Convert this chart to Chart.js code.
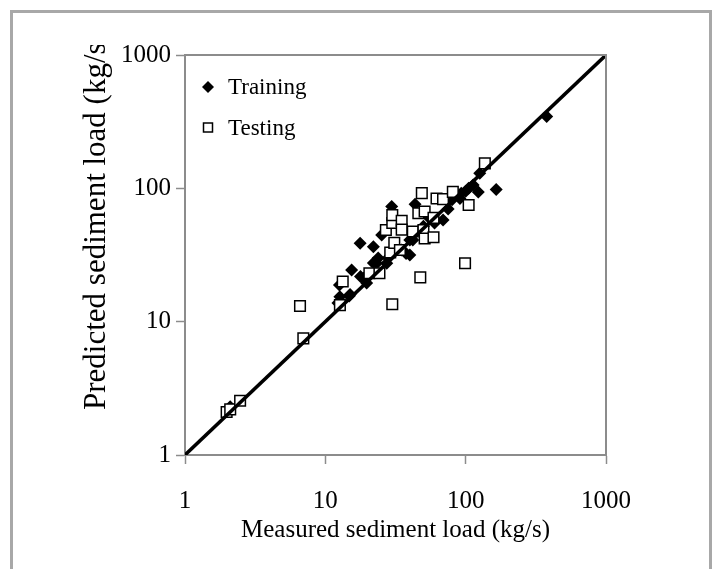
<!DOCTYPE html>
<html>
<head>
<meta charset="utf-8">
<script src="https://cdn.jsdelivr.net/npm/chart.js@4"></script>
<style>
  body { margin: 0; background: #fff; }
  #wrap { width: 721px; height: 569px; }
</style>
</head>
<body>
<div id="wrap"><canvas id="chart" width="721" height="569"></canvas></div>
<script>
// measured (x) vs predicted (y) sediment load, kg/s
const trainingX = [2.1, 12.3, 12.7, 12.6, 14.8, 15.0, 15.4, 17.8, 18.7, 19.7, 17.7, 22, 22, 23.2, 23.8, 25.2, 27.4, 28, 29.7, 32, 35, 37.6, 40, 40, 42, 43.6, 50, 55, 60, 69, 75, 80, 91, 93, 100, 105, 113, 123, 126, 165, 378];
const trainingY = [2.3, 13.8, 15.4, 18.8, 15.6, 16, 24.4, 21.8, 21.2, 19.5, 38.7, 36.5, 27.5, 27.4, 30, 44.7, 27.4, 30, 73, 35, 34.5, 32.5, 31.6, 41, 41, 76, 52, 60, 55, 58, 70, 82, 84, 92, 95, 100, 106, 94, 130, 98, 345];

const testingX = [1.98, 2.1, 2.47, 6.6, 6.97, 12.7, 13.3, 20.6, 24.3, 27, 29, 30, 30, 30, 31, 34, 35, 35, 42, 46, 47.5, 48.7, 50, 51, 51, 59, 59, 62, 69, 81, 99, 105, 137];
const testingY = [2.1, 2.2, 2.55, 13.1, 7.5, 13.3, 20, 23.1, 23.1, 48.7, 33, 55, 63, 13.5, 39, 34.5, 57, 49, 47.5, 65, 21.5, 92, 48.7, 67, 42, 43, 60, 84, 83, 94, 27.4, 75, 154];

const lineX = [1, 1000];
const lineY = [1, 1000];

const axisTicks = [1, 10, 100, 1000];

const xTitle = "Measured sediment load (kg/s)";
const yTitle = "Predicted sediment load (kg/s)";

const toPoints = (xs, ys) => xs.map((x, i) => ({ x: x, y: ys[i] }));

const serif = "'Liberation Serif', 'Times New Roman', serif";
const axisGrey = "#8c8c8c";

// gray frame around the picture, box around the plot, y title and legend
const decorations = {
    id: "decorations",
    beforeDraw(chart) {
        const ctx = chart.ctx;
        ctx.save();
        ctx.fillStyle = "#fff";
        ctx.fillRect(0, 0, chart.width, chart.height);
        ctx.strokeStyle = "#a8a8a8";
        ctx.lineWidth = 3;
        ctx.beginPath();
        ctx.moveTo(11.5, chart.height);
        ctx.lineTo(11.5, 11.5);
        ctx.lineTo(710.5, 11.5);
        ctx.lineTo(710.5, chart.height);
        ctx.stroke();
        ctx.restore();
    },
    afterDraw(chart) {
        const ctx = chart.ctx;
        const area = chart.chartArea;
        ctx.save();
        // top and right edges of the plot box
        ctx.strokeStyle = axisGrey;
        ctx.lineWidth = 2;
        ctx.beginPath();
        ctx.moveTo(area.left, area.top);
        ctx.lineTo(area.right, area.top);
        ctx.lineTo(area.right, area.bottom);
        ctx.stroke();

        // y title, clipped at the top like the original
        ctx.beginPath();
        ctx.rect(0, 45, 180, chart.height);
        ctx.clip();
        ctx.translate(97, 410);
        ctx.rotate(-Math.PI / 2);
        ctx.fillStyle = "#000";
        ctx.font = "31px " + serif;
        ctx.textAlign = "left";
        ctx.textBaseline = "middle";
        ctx.fillText(yTitle, 0, 0);
        ctx.restore();

        // legend
        ctx.save();
        ctx.fillStyle = "#000";
        ctx.beginPath();
        ctx.moveTo(208, 81);
        ctx.lineTo(214, 87);
        ctx.lineTo(208, 93);
        ctx.lineTo(202, 87);
        ctx.closePath();
        ctx.fill();
        ctx.strokeStyle = "#000";
        ctx.lineWidth = 1.5;
        ctx.fillStyle = "#fff";
        ctx.fillRect(203.5, 123, 9, 9);
        ctx.strokeRect(203.5, 123, 9, 9);
        ctx.fillStyle = "#000";
        ctx.font = "23px " + serif;
        ctx.textBaseline = "middle";
        ctx.fillText(chart.data.datasets[2].label, 228, 88);
        ctx.fillText(chart.data.datasets[1].label, 228, 129);
        ctx.restore();
    }
};

new Chart(document.getElementById("chart"), {
    type: "scatter",
    data: {
        datasets: [
            {
                label: "1:1",
                type: "line",
                data: toPoints(lineX, lineY),
                borderColor: "#000",
                borderWidth: 3.5,
                pointRadius: 0,
                showLine: true
            },
            {
                label: "Testing",
                data: toPoints(testingX, testingY),
                pointStyle: "rect",
                pointRadius: 7.5,
                pointBackgroundColor: "#fff",
                pointBorderColor: "#000",
                pointBorderWidth: 1.5
            },
            {
                label: "Training",
                data: toPoints(trainingX, trainingY),
                pointStyle: "rectRot",
                pointRadius: 6.5,
                pointBackgroundColor: "#000",
                pointBorderColor: "#000",
                pointBorderWidth: 0
            }
        ]
    },
    options: {
        responsive: false,
        animation: false,
        layout: { padding: { left: 0, top: 55, right: 115, bottom: 0 } },
        plugins: {
            legend: { display: false },
            tooltip: { enabled: false }
        },
        scales: {
            x: {
                type: "logarithmic",
                min: 1,
                max: 1000,
                afterFit(scale) { scale.height = 114; },
                afterBuildTicks(scale) { scale.ticks = axisTicks.map(v => ({ value: v })); },
                ticks: {
                    color: "#000",
                    font: { family: serif, size: 25 },
                    padding: 22,
                    maxRotation: 0,
                    callback: v => String(v)
                },
                grid: { drawOnChartArea: false, tickLength: 9, color: axisGrey, tickWidth: 1.5 },
                border: { color: axisGrey, width: 2 },
                title: {
                    display: true,
                    text: xTitle,
                    color: "#000",
                    font: { family: serif, size: 25 },
                    padding: { top: 0, bottom: 24 }
                }
            },
            y: {
                type: "logarithmic",
                min: 1,
                max: 1000,
                afterFit(scale) { scale.width = 185; },
                afterBuildTicks(scale) { scale.ticks = axisTicks.map(v => ({ value: v })); },
                ticks: {
                    color: "#000",
                    font: { family: serif, size: 25 },
                    padding: 5,
                    callback: v => String(v)
                },
                grid: { drawOnChartArea: false, tickLength: 9, color: axisGrey, tickWidth: 1.5 },
                border: { color: axisGrey, width: 2 }
            }
        }
    },
    plugins: [decorations]
});
</script>
</body>
</html>
